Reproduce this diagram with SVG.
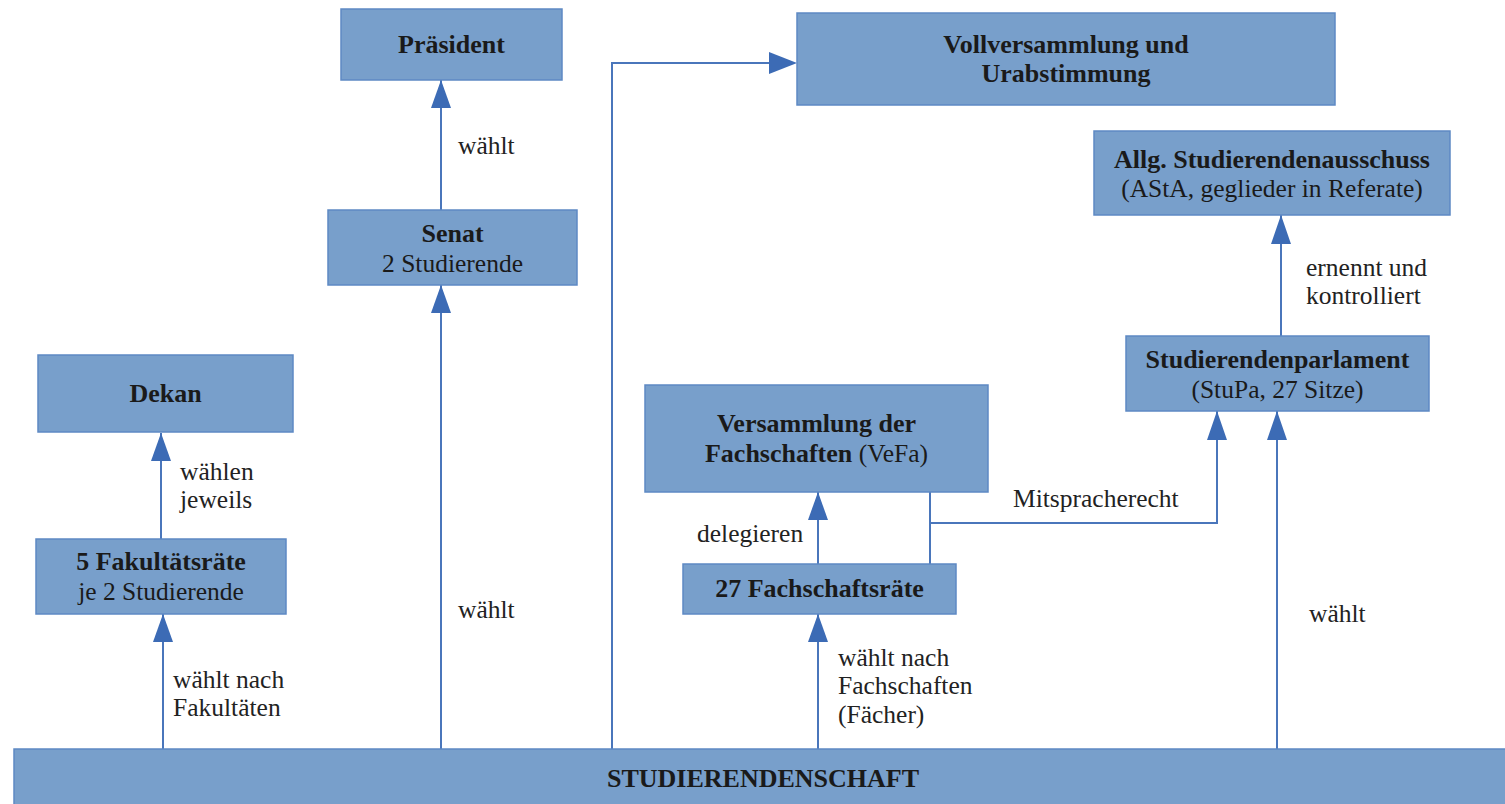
<svg xmlns="http://www.w3.org/2000/svg" width="1505" height="804" viewBox="0 0 1505 804">
<defs>
<style>
.box{fill:#789fcb;stroke:#5e89c4;stroke-width:1.5}
.t{font-family:"Liberation Serif","Times New Roman",serif;font-size:25.5px;fill:#1a1a1a}
.b{font-weight:bold;font-size:26px}
.c{text-anchor:middle}
.lbl{font-family:"Liberation Serif","Times New Roman",serif;font-size:25.5px;fill:#222}
.ln{fill:none;stroke:#4a76bb;stroke-width:2}
.ah{fill:#3c6bb5}
</style>
</defs>
<rect width="1505" height="804" fill="#ffffff"/>

<g id="connectors">
<path class="ln" d="M161,539 V433"/>
<path class="ah" d="M151,461 L161,433 L171,461 Z"/>
<path class="ln" d="M163,749 V614"/>
<path class="ah" d="M153,642 L163,614 L173,642 Z"/>
<path class="ln" d="M441,210 V80"/>
<path class="ah" d="M431,108 L441,80 L451,108 Z"/>
<path class="ln" d="M441,749 V285"/>
<path class="ah" d="M431,313 L441,285 L451,313 Z"/>
<path class="ln" d="M612,749 V63 H775"/>
<path class="ah" d="M769,52 L797,63 L769,74 Z"/>
<path class="ln" d="M818,564 V492"/>
<path class="ah" d="M808,520 L818,492 L828,520 Z"/>
<path class="ln" d="M818,749 V614"/>
<path class="ah" d="M808,642 L818,614 L828,642 Z"/>
<path class="ln" d="M930,564 V492"/>
<path class="ln" d="M930,523 H1217 V411"/>
<path class="ah" d="M1207,440 L1217,411 L1227,440 Z"/>
<path class="ln" d="M1277,749 V411"/>
<path class="ah" d="M1267,440 L1277,411 L1287,440 Z"/>
<path class="ln" d="M1281,336 V215"/>
<path class="ah" d="M1271,244 L1281,215 L1291,244 Z"/>
<text class="lbl" x="180" y="480">wählen</text>
<text class="lbl" x="180" y="508">jeweils</text>
<text class="lbl" x="173" y="688">wählt nach</text>
<text class="lbl" x="173" y="716">Fakultäten</text>
<text class="lbl" x="458" y="154">wählt</text>
<text class="lbl" x="458" y="618">wählt</text>
<text class="lbl" x="697" y="542">delegieren</text>
<text class="lbl" x="1013" y="507">Mitspracherecht</text>
<text class="lbl" x="838" y="666">wählt nach</text>
<text class="lbl" x="838" y="694">Fachschaften</text>
<text class="lbl" x="838" y="723">(Fächer)</text>
<text class="lbl" x="1306" y="276">ernennt und</text>
<text class="lbl" x="1306" y="304">kontrolliert</text>
<text class="lbl" x="1309" y="622">wählt</text>
</g>

<g id="praesident">
<rect class="box" x="341" y="9" width="221" height="71"/>
<text class="t b c" x="451.5" y="53">Präsident</text>
</g>
<g id="senat">
<rect class="box" x="328" y="210" width="249" height="75"/>
<text class="t b c" x="452.5" y="242">Senat</text>
<text class="t c" x="452.5" y="272">2 Studierende</text>
</g>
<g id="vollversammlung">
<rect class="box" x="797" y="13" width="538" height="92"/>
<text class="t b c" x="1066" y="53">Vollversammlung und</text>
<text class="t b c" x="1066" y="82">Urabstimmung</text>
</g>
<g id="asta">
<rect class="box" x="1094" y="131" width="356" height="84"/>
<text class="t b c" x="1272" y="168">Allg. Studierendenausschuss</text>
<text class="t c" x="1272" y="197">(AStA, geglieder in Referate)</text>
</g>
<g id="stupa">
<rect class="box" x="1126" y="336" width="303" height="75"/>
<text class="t b c" x="1277.5" y="368">Studierendenparlament</text>
<text class="t c" x="1277.5" y="398">(StuPa, 27 Sitze)</text>
</g>
<g id="dekan">
<rect class="box" x="38" y="355" width="255" height="77"/>
<text class="t b c" x="165.5" y="402">Dekan</text>
</g>
<g id="fakultaetsraete">
<rect class="box" x="36" y="539" width="250" height="75"/>
<text class="t b c" x="161" y="570">5 Fakultätsräte</text>
<text class="t c" x="161" y="600">je 2 Studierende</text>
</g>
<g id="vefa">
<rect class="box" x="645" y="385" width="343" height="107"/>
<text class="t b c" x="816.5" y="432">Versammlung der</text>
<text class="t c" x="816.5" y="462"><tspan class="b">Fachschaften</tspan> (VeFa)</text>
</g>
<g id="fachschaftsraete">
<rect class="box" x="683" y="564" width="273" height="50"/>
<text class="t b c" x="819.5" y="597">27 Fachschaftsräte</text>
</g>
<g id="studierendenschaft">
<rect class="box" x="14" y="749" width="1500" height="70"/>
<text class="t b c" x="763" y="787">STUDIERENDENSCHAFT</text>
</g>
</svg>
